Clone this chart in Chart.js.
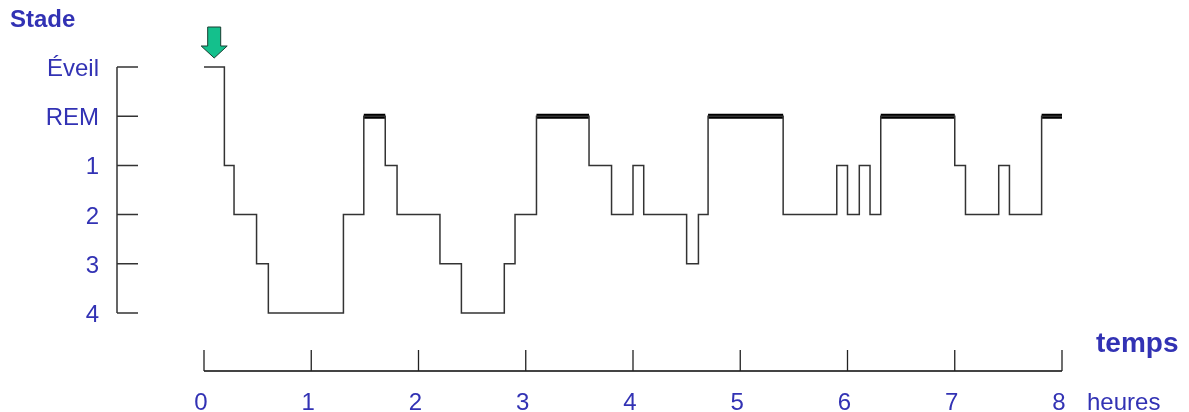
<!DOCTYPE html>
<html>
<head>
<meta charset="utf-8">
<title>Hypnogramme</title>
<script src="https://cdn.jsdelivr.net/npm/chart.js@4.4.1/dist/chart.umd.min.js"></script>
<style>
  html, body { margin: 0; padding: 0; background: #fff; }
  #wrap { width: 1189px; height: 412px; }
</style>
</head>
<body>
<div id="wrap"><canvas id="myChart" width="1189" height="412"></canvas></div>
<script>
// stage names, bottom to top
var stageNames = ['4', '3', '2', '1', 'REM', 'Éveil'];
// hours on the time axis
var hourTicks = [0, 1, 2, 3, 4, 5, 6, 7, 8];

// each entry: time (h) at which the stage starts
var changeTimes = [0, 0.19, 0.28, 0.49, 0.6, 1.3, 1.49, 1.69, 1.8, 2.2, 2.4, 2.8, 2.9, 3.1,
  3.59, 3.8, 4.0, 4.1, 4.5, 4.61, 4.7, 5.4, 5.9, 6.0, 6.11, 6.21, 6.31, 7.0, 7.1, 7.41, 7.51, 7.81];
var stageSeq = ['Éveil', '1', '2', '3', '4', '2', 'REM', '1', '2', '3', '4', '3', '2', 'REM',
  '1', '2', '1', '2', '3', '2', 'REM', '2', '1', '2', '1', '2', 'REM', '1', '2', '1', '2', 'REM'];
var endTime = 8;

var blue = '#3232b4';
var fontFam = '"Liberation Sans", Arial, sans-serif';

var linePts = [];
for (var i = 0; i < changeTimes.length; i++) {
  linePts.push({ x: changeTimes[i], y: stageNames.indexOf(stageSeq[i]) });
}
linePts.push({ x: endTime, y: stageNames.indexOf(stageSeq[stageSeq.length - 1]) });

// REM periods drawn as thick bars
var remPts = [];
for (var i = 0; i < stageSeq.length; i++) {
  if (stageSeq[i] === 'REM') {
    var end = i + 1 < changeTimes.length ? changeTimes[i + 1] : endTime;
    remPts.push({ x: changeTimes[i], y: stageNames.indexOf('REM') });
    remPts.push({ x: end, y: stageNames.indexOf('REM') });
    remPts.push({ x: end, y: null });
  }
}

var axesPlugin = {
  id: 'hypnoAxes',
  afterDraw: function (chart) {
    var ctx = chart.ctx;
    var xs = chart.scales.x;
    var ys = chart.scales.y;
    ctx.save();

    // stage axis
    var ax = xs.getPixelForValue(0) - 87;
    ctx.strokeStyle = '#333';
    ctx.lineWidth = 1.5;
    ctx.beginPath();
    ctx.moveTo(ax, ys.getPixelForValue(stageNames.length - 1));
    ctx.lineTo(ax, ys.getPixelForValue(0));
    for (var i = 0; i < stageNames.length; i++) {
      var py = ys.getPixelForValue(i);
      ctx.moveTo(ax, py);
      ctx.lineTo(ax + 21, py);
    }
    ctx.stroke();

    ctx.fillStyle = blue;
    ctx.font = '24px ' + fontFam;
    ctx.textAlign = 'right';
    ctx.textBaseline = 'alphabetic';
    for (var i = 0; i < stageNames.length; i++) {
      ctx.fillText(stageNames[i], ax - 18, ys.getPixelForValue(i) + 9);
    }

    ctx.font = 'bold 24px ' + fontFam;
    ctx.textAlign = 'left';
    ctx.fillText('Stade', 10, 27);

    // time axis
    var ty = ys.getPixelForValue(0) + 58;
    ctx.strokeStyle = '#444';
    ctx.lineWidth = 2;
    ctx.beginPath();
    ctx.moveTo(xs.getPixelForValue(hourTicks[0]), ty);
    ctx.lineTo(xs.getPixelForValue(hourTicks[hourTicks.length - 1]), ty);
    ctx.stroke();
    ctx.lineWidth = 1.3;
    ctx.strokeStyle = '#222';
    ctx.beginPath();
    for (var i = 0; i < hourTicks.length; i++) {
      var px = xs.getPixelForValue(hourTicks[i]);
      ctx.moveTo(px, ty);
      ctx.lineTo(px, ty - 21);
    }
    ctx.stroke();

    ctx.font = '24px ' + fontFam;
    ctx.textAlign = 'center';
    for (var i = 0; i < hourTicks.length; i++) {
      ctx.fillText(String(hourTicks[i]), xs.getPixelForValue(hourTicks[i]) - 3, ty + 39);
    }
    ctx.textAlign = 'left';
    ctx.fillText('heures', xs.getPixelForValue(endTime) + 25, ty + 39);
    ctx.font = 'bold 28px ' + fontFam;
    ctx.fillText('temps', xs.getPixelForValue(endTime) + 34, ty - 19);

    // arrow marking lights off
    var tipX = xs.getPixelForValue((changeTimes[0] + changeTimes[1]) / 2);
    var tipY = ys.getPixelForValue(stageNames.indexOf('Éveil')) - 9;
    ctx.beginPath();
    ctx.moveTo(tipX - 6.5, tipY - 31);
    ctx.lineTo(tipX + 6.5, tipY - 31);
    ctx.lineTo(tipX + 6.5, tipY - 12);
    ctx.lineTo(tipX + 13, tipY - 12);
    ctx.lineTo(tipX, tipY);
    ctx.lineTo(tipX - 13, tipY - 12);
    ctx.lineTo(tipX - 6.5, tipY - 12);
    ctx.closePath();
    ctx.fillStyle = '#14c08c';
    ctx.fill();
    ctx.strokeStyle = '#183d30';
    ctx.lineWidth = 1;
    ctx.stroke();

    ctx.restore();
  }
};

var ctx = document.getElementById('myChart').getContext('2d');
var chart = new Chart(ctx, {
  type: 'line',
  data: {
    datasets: [{
      label: 'Stade',
      data: linePts,
      stepped: 'before',
      borderColor: '#333',
      borderWidth: 1.5,
      pointRadius: 0,
      fill: false,
      clip: false
    }, {
      label: 'REM',
      data: remPts,
      borderColor: '#000',
      borderWidth: 5,
      borderCapStyle: 'butt',
      pointRadius: 0,
      spanGaps: false,
      fill: false,
      clip: false
    }]
  },
  options: {
    responsive: false,
    animation: false,
    layout: { padding: { left: 204, right: 127, top: 67, bottom: 99 } },
    plugins: { legend: { display: false }, tooltip: { enabled: false } },
    scales: {
      x: { type: 'linear', min: 0, max: endTime, display: false },
      y: { type: 'linear', min: 0, max: stageNames.length - 1, display: false }
    }
  },
  plugins: [axesPlugin]
});
</script>
</body>
</html>
